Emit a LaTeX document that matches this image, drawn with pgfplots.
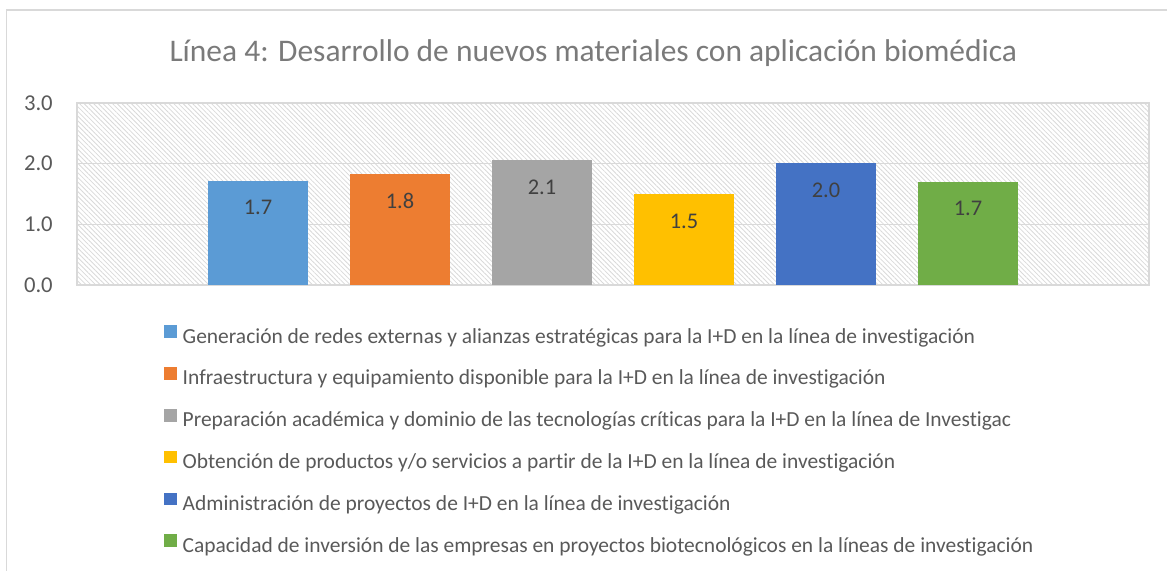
\documentclass[border=0pt]{standalone}
\usepackage{fontspec}
\setmainfont{Carlito}[Ligatures=NoCommon]
\usepackage{pgfplots}
\pgfplotsset{compat=1.18}
\usetikzlibrary{patterns.meta}
\definecolor{c1}{HTML}{5B9BD5}
\definecolor{c2}{HTML}{ED7D31}
\definecolor{c3}{HTML}{A5A5A5}
\definecolor{c4}{HTML}{FFC000}
\definecolor{c5}{HTML}{4472C4}
\definecolor{c6}{HTML}{70AD47}
\definecolor{gridc}{HTML}{D9D9D9}
\definecolor{txt}{HTML}{595959}
\definecolor{lbl}{HTML}{404040}
\definecolor{ttl}{HTML}{7A7A7A}
\begin{document}
\begin{tikzpicture}
\useasboundingbox (0,0) rectangle (875.25pt,428.25pt);
\draw[gridc, line width=1.1pt] (4.9pt,0) -- (4.9pt,420.75pt) -- (875.25pt,420.75pt);
\node[anchor=base, text=ttl, font=\fontsize{23.6}{27}\selectfont, inner sep=0pt] at (445pt,381.75pt) {Línea 4: Desarrollo de nuevos materiales con aplicación biomédica};
\begin{axis}[
  at={(57.75pt,214.5pt)}, anchor=south west,
  width=804pt, height=136.5pt, scale only axis,
  xmin=-1.275, xmax=6.275, ymin=0, ymax=3,
  ytick={0,1,2,3}, xtick=\empty,
  /pgf/number format/assume math mode=true,
  yticklabel={\pgfmathprintnumber[fixed,fixed zerofill,precision=1]{\tick}},
  ymajorgrids, grid style={gridc, line width=0.8pt},
  axis line style={gridc, line width=0.8pt},
  major tick length=0pt, tick style={draw=none},
  ticklabel style={text=txt, font=\fontsize{17}{19}\selectfont},
  yticklabel style={inner sep=0pt, xshift=-18pt},
  axis background/.style={pattern={Lines[angle=-45,distance=2.5pt,line width=0.6pt]}, pattern color=gridc},
  ybar, bar width=0.704, bar shift=0pt,
  point meta=y,
  nodes near coords={\pgfmathprintnumber[fixed,fixed zerofill,precision=1]{\pgfplotspointmeta}},
  every node near coord/.append style={anchor=center, yshift=-20.25pt, text=lbl, font=\fontsize{16.8}{19}\selectfont},
  legend cell align=left,
  legend style={at={(0.0812,-0.222)}, anchor=north west, draw=none, fill=none,
    inner sep=0pt, outer sep=0pt, row sep=14.6pt, column sep=4.5pt,
    font=\fontsize{16.1}{19}\selectfont, text=txt,
    nodes={inner sep=0pt, text height=11pt, text depth=3.5pt}},
  sq/.style={legend image code/.code={\path[##1, draw=none] (0pt,0pt) rectangle (9.5pt,9.5pt);}},
]
\addplot[fill=c1, draw=none, bar shift=0pt, sq] coordinates {(0,1.72)};
\addlegendentry{Generación de redes externas y alianzas estratégicas para la I+D en la línea de investigación}
\addplot[fill=c2, draw=none, bar shift=0pt, sq] coordinates {(1,1.83)};
\addlegendentry{Infraestructura y equipamiento disponible para la I+D en la línea de investigación}
\addplot[fill=c3, draw=none, bar shift=0pt, sq] coordinates {(2,2.06)};
\addlegendentry{Preparación académica y dominio de las tecnologías críticas para la I+D en la línea de Investigac}
\addplot[fill=c4, draw=none, bar shift=0pt, sq] coordinates {(3,1.50)};
\addlegendentry{Obtención de productos y/o servicios a partir de la I+D en la línea de investigación}
\addplot[fill=c5, draw=none, bar shift=0pt, sq] coordinates {(4,2.01)};
\addlegendentry{Administración de proyectos de I+D en la línea de investigación}
\addplot[fill=c6, draw=none, bar shift=0pt, sq] coordinates {(5,1.70)};
\addlegendentry{Capacidad de inversión de las empresas en proyectos biotecnológicos en la líneas de investigación}
\end{axis}
\end{tikzpicture}
\end{document}
